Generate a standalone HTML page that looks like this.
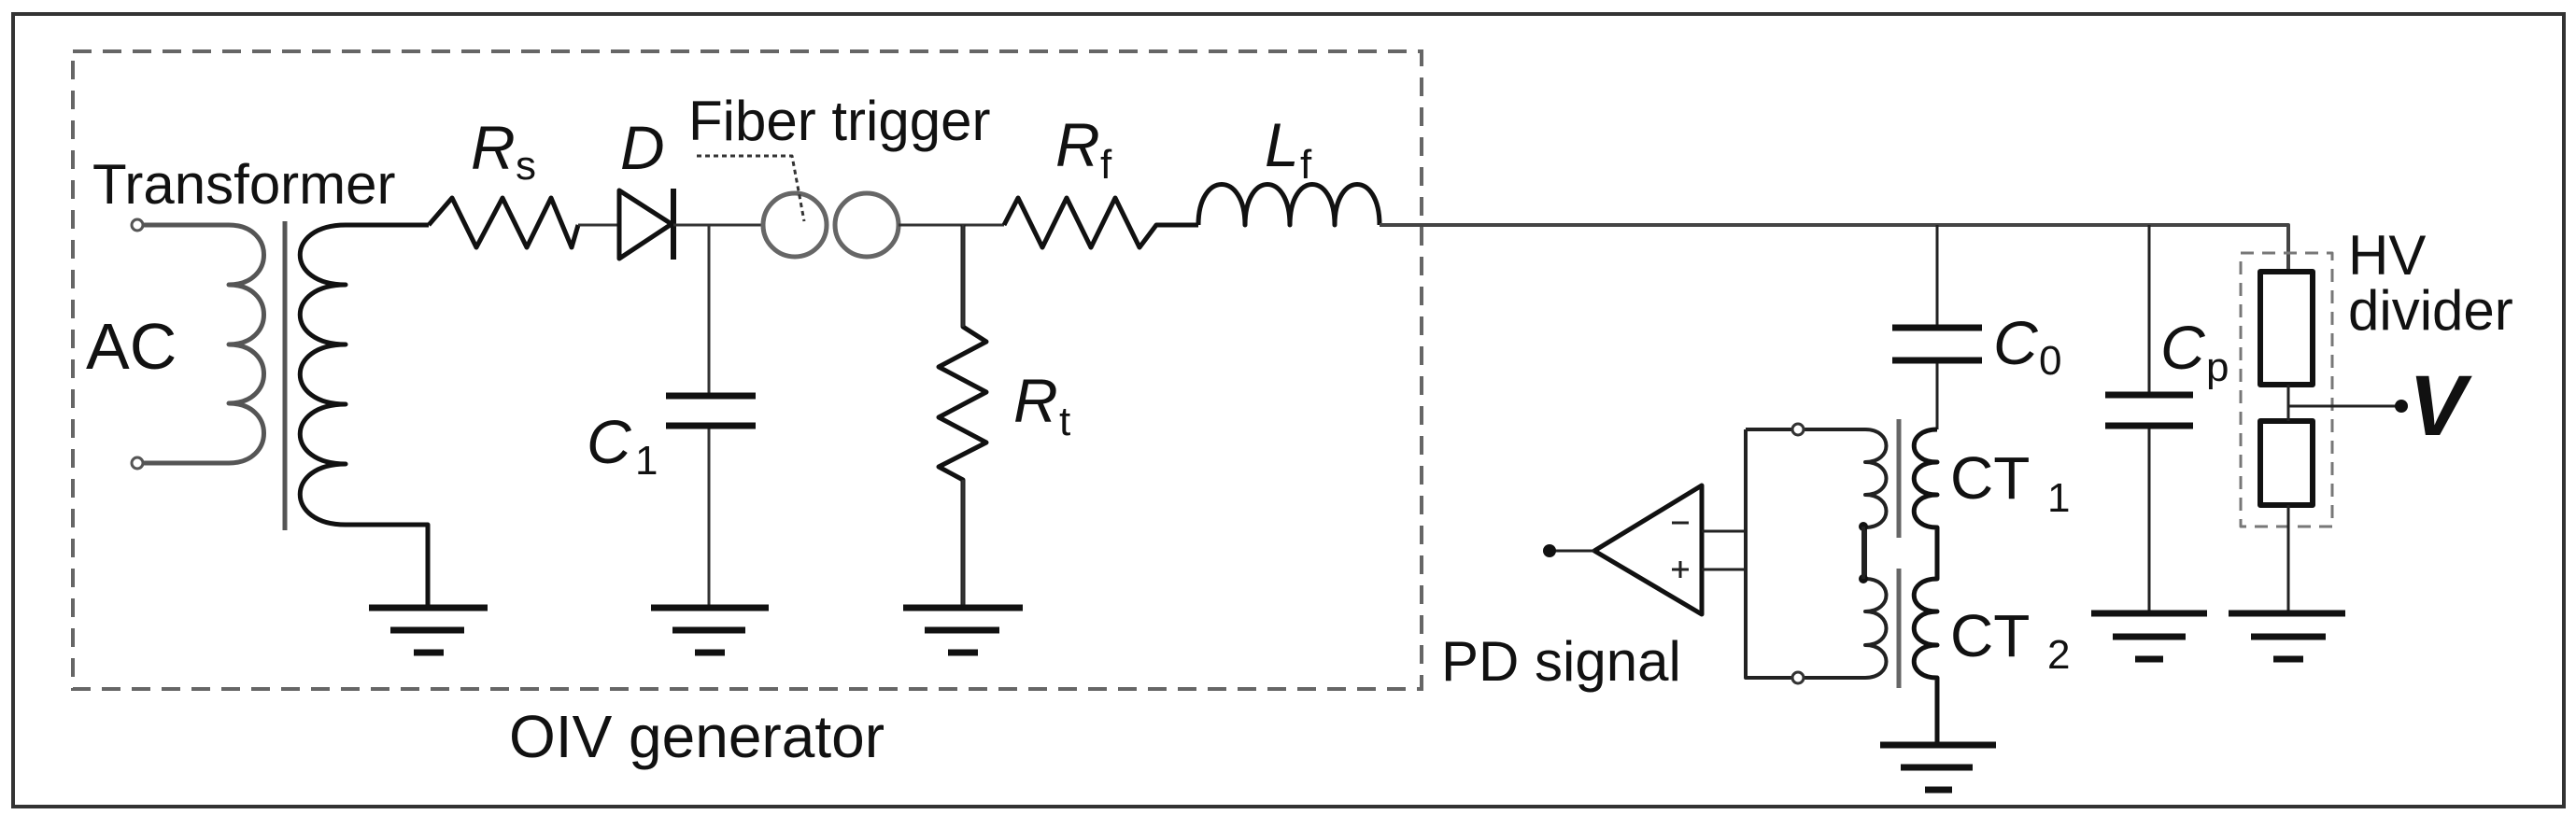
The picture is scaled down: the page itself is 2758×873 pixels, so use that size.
<!DOCTYPE html>
<html><head><meta charset="utf-8"><style>
html,body{margin:0;padding:0;background:#fff;}
svg{display:block;}
text{font-family:"Liberation Sans",Arial,sans-serif;fill:#111;}
.i{font-style:italic;}
</style></head><body>
<svg width="2758" height="873" viewBox="0 0 2758 873" xmlns="http://www.w3.org/2000/svg">
<rect x="14" y="15" width="2731" height="849" fill="none" stroke="#333" stroke-width="4"/>
<rect x="78" y="55" width="1444" height="683" fill="none" stroke="#666" stroke-width="4" stroke-dasharray="20,12"/>

<g fill="none" stroke-linejoin="round">
<!-- primary -->
<circle cx="147" cy="241" r="6" stroke="#555" stroke-width="3" fill="#fff"/>
<circle cx="147" cy="496" r="6" stroke="#555" stroke-width="3" fill="#fff"/>
<path d="M153,241 H245 c50,0 50,64 0,64 c50,0 50,64 0,64 c50,0 50,63 0,63 c50,0 50,64 0,64 H153" stroke="#555" stroke-width="5"/>
<line x1="305" y1="237" x2="305" y2="568" stroke="#555" stroke-width="5"/>
<!-- secondary -->
<path d="M459,241 H370 c-65,0 -65,64 0,64 c-65,0 -65,64 0,64 c-65,0 -65,64 0,64 c-65,0 -65,64 0,64 c-65,0 -65,65 0,65 H458 V651" stroke="#111" stroke-width="5"/>
<!-- Rs -->
<path d="M459,241 L484,212 L510,265 L538,212 L564,265 L590,212 L612,265 L619,241" stroke="#111" stroke-width="5"/>
<line x1="619" y1="241" x2="663" y2="241" stroke="#333" stroke-width="3"/>
<!-- diode -->
<path d="M663,204 L663,277 L719,240 Z" stroke="#111" stroke-width="5"/>
<line x1="721" y1="202" x2="721" y2="278" stroke="#111" stroke-width="6"/>
<line x1="721" y1="241" x2="816" y2="241" stroke="#333" stroke-width="3"/>
<!-- C1 -->
<path d="M759,241 V424 M759,456 V651" stroke="#333" stroke-width="3"/>
<path d="M713,424 H809 M713,456 H809" stroke="#111" stroke-width="7"/>
<!-- spark gap -->
<circle cx="851" cy="241" r="34" stroke="#666" stroke-width="5"/>
<circle cx="928" cy="241" r="34" stroke="#666" stroke-width="5"/>
<path d="M746,167 H848 L861,237" stroke="#333" stroke-width="3" stroke-dasharray="5,4"/>
<path d="M962,241 H1075" stroke="#333" stroke-width="3"/>
<!-- Rt -->
<path d="M1031,241 V350 L1056,366 L1005,393 L1056,420 L1005,447 L1056,474 L1005,500 L1031,514 V651" stroke="#111" stroke-width="5"/>
<path d="M1031,241 V350 M1031,514 V651" stroke="#333" stroke-width="3"/>
<!-- Rf -->
<path d="M1075,241 L1090,212 L1116,265 L1142,212 L1168,265 L1194,212 L1220,265 L1238,241 H1283" stroke="#111" stroke-width="5"/>
<!-- Lf -->
<path d="M1283,241 c0,-58 50,-58 50,0 c0,-58 48,-58 48,0 c0,-58 48,-58 48,0 c0,-58 48,-58 48,0" stroke="#111" stroke-width="5"/>
<!-- main wire -->
<path d="M1477,241 H2450 V291" stroke="#444" stroke-width="4"/>
<!-- C0 branch -->
<path d="M2074,241 V351 M2074,386 V460" stroke="#222" stroke-width="3"/>
<path d="M2026,351 H2122 M2026,386 H2122" stroke="#111" stroke-width="7"/>
<!-- CT1 / CT2 secondaries -->
<path d="M2074,460 c-33,0 -33,35 0,35 c-33,0 -33,35 0,35 c-33,0 -33,35 0,35 V620 c-33,0 -33,35 0,35 c-33,0 -33,36 0,36 c-33,0 -33,35 0,35 V798" stroke="#111" stroke-width="5"/>
<line x1="2033" y1="449" x2="2033" y2="576" stroke="#666" stroke-width="5"/>
<line x1="2033" y1="609" x2="2033" y2="737" stroke="#666" stroke-width="5"/>
<!-- primaries -->
<path d="M1869,460 H1919 M1931,460 H1997 c30,0 30,35 0,35 c30,0 30,35 0,35 c30,0 30,35 0,35 V620 c30,0 30,35 0,35 c30,0 30,36 0,36 c30,0 30,35 0,35 H1931 M1919,726 H1869 V460" stroke="#222" stroke-width="4"/>
<circle cx="1925" cy="460" r="6" stroke="#333" stroke-width="3" fill="#fff"/>
<circle cx="1925" cy="726" r="6" stroke="#333" stroke-width="3" fill="#fff"/>
<!-- opamp -->
<path d="M1822,520 L1822,658 L1707,590 Z" stroke="#111" stroke-width="5"/>
<path d="M1659,590 H1707 M1822,569 H1869 M1822,610 H1869" stroke="#222" stroke-width="3"/>
<path d="M1790,560 H1808 M1790,610 H1808 M1799,601 V619" stroke="#222" stroke-width="3"/>
<!-- Cp -->
<path d="M2301,241 V423 M2301,456 V657" stroke="#222" stroke-width="3"/>
<path d="M2254,423 H2348 M2254,456 H2348" stroke="#111" stroke-width="7"/>
<!-- HV divider -->
<rect x="2399" y="271" width="98" height="293" stroke="#777" stroke-width="3" stroke-dasharray="14,9"/>
<rect x="2420" y="291" width="56" height="121" stroke="#111" stroke-width="6"/>
<rect x="2420" y="451" width="56" height="90" stroke="#111" stroke-width="6"/>
<path d="M2450,412 V451 M2450,541 V657 M2450,435 H2571" stroke="#222" stroke-width="3"/>
</g>
<circle cx="1659" cy="590" r="7" fill="#111"/>
<circle cx="1995" cy="564" r="5" fill="#111"/>
<circle cx="1995" cy="620" r="5" fill="#111"/>
<line x1="1995" y1="564" x2="1995" y2="620" stroke="#222" stroke-width="4"/>
<circle cx="2571" cy="435" r="7" fill="#111"/>

<!-- grounds -->
<g stroke="#111" stroke-width="7">
<path d="M395,651 H522 M418,675 H497 M443,699 H475"/>
<path d="M697,651 H823 M720,675 H798 M744,699 H776"/>
<path d="M967,651 H1095 M990,675 H1070 M1015,699 H1047"/>
<path d="M2013,798 H2137 M2035,822 H2112 M2061,846 H2090"/>
<path d="M2239,657 H2363 M2262,682 H2340 M2286,706 H2316"/>
<path d="M2386,657 H2511 M2410,682 H2490 M2434,706 H2466"/>
</g>

<!-- labels -->
<text x="99" y="218" font-size="60">Transformer</text>
<text x="92" y="395" font-size="70">AC</text>
<text x="504" y="181" font-size="66" class="i">R</text><text x="552" y="192" font-size="44">s</text>
<text x="664" y="181" font-size="66" class="i">D</text>
<text x="737" y="150" font-size="60">Fiber trigger</text>
<text x="628" y="496" font-size="66" class="i">C</text><text x="680" y="508" font-size="44">1</text>
<text x="1130" y="178" font-size="66" class="i">R</text><text x="1178" y="191" font-size="44">f</text>
<text x="1354" y="178" font-size="66" class="i">L</text><text x="1392" y="191" font-size="44">f</text>
<text x="1085" y="452" font-size="66" class="i">R</text><text x="1134" y="466" font-size="44">t</text>
<text x="545" y="811" font-size="64">OIV generator</text>
<text x="1543" y="729" font-size="60">PD signal</text>
<text x="2134" y="390" font-size="66" class="i">C</text><text x="2183" y="401" font-size="44">0</text>
<text x="2313" y="395" font-size="66" class="i">C</text><text x="2362" y="408" font-size="44">p</text>
<text x="2088" y="534" font-size="64">CT</text><text x="2192" y="548" font-size="44">1</text>
<text x="2088" y="703" font-size="64">CT</text><text x="2192" y="716" font-size="44">2</text>
<text x="2514" y="294" font-size="60">HV</text>
<text x="2514" y="353" font-size="60">divider</text>
<text x="2579" y="466" font-size="92" font-weight="bold" class="i">V</text>
</svg>
</body></html>
